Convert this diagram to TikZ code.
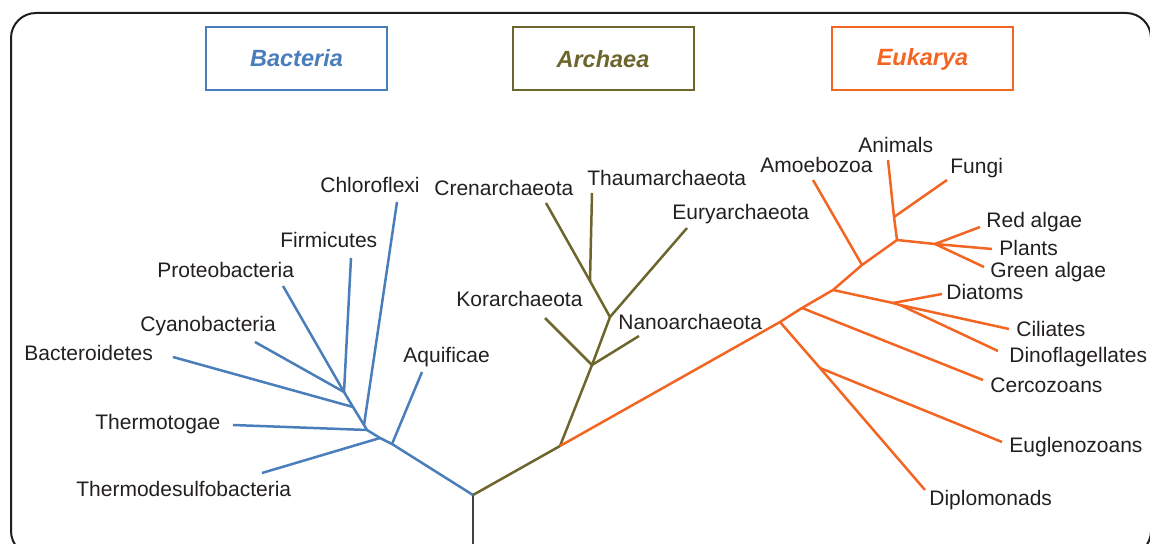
\documentclass[tikz,border=0pt]{standalone}
\usepackage{fontspec}
\setmainfont{Liberation Sans}
\definecolor{bact}{RGB}{74,126,187}
\definecolor{arch}{RGB}{108,102,45}
\definecolor{euk}{RGB}{242,101,34}
\definecolor{txt}{RGB}{35,31,32}
\definecolor{frame}{RGB}{30,30,30}
\begin{document}
\begin{tikzpicture}[x=0.5pt,y=-0.5pt,
  lbl/.style={anchor=base west, yshift=-3.75pt, inner sep=0pt, text=txt, font=\fontsize{10.5}{12}\selectfont},
  titlebox/.style={draw, line width=1pt, minimum width=90.5pt, minimum height=31.5pt, inner sep=0pt, font=\fontsize{11.75}{14}\selectfont\bfseries\itshape},
  br/.style={line width=1.25pt, line join=round}]
\useasboundingbox (0,0) rectangle (1150,544);
\begin{scope}
\clip (0,0) rectangle (1150,544);
\draw[frame, line width=1pt, rounded corners=12.5pt] (11,13) rectangle (1151,556);
\end{scope}

% titles
\node[titlebox, draw=bact, text=bact] (tbact) at (296.5,58.5) {Bacteria};
\node[titlebox, draw=arch, text=arch] (tarch) at (603,59) {Archaea};
\node[titlebox, draw=euk, text=euk] (teuk) at (922.5,59) {Eukarya};

% coordinates: root
\coordinate (root) at (473,495);
\coordinate (stem) at (473,548);
% bacteria
\coordinate (b1) at (392,444);
\coordinate (b2) at (380,438);
\coordinate (b3) at (367,430);
\coordinate (b4) at (364,425);
\coordinate (b5) at (353,407);
\coordinate (b6) at (344,392);
\coordinate (eChloro) at (397,202);
\coordinate (eFirmi) at (351,258);
\coordinate (eProteo) at (283,286);
\coordinate (eCyano) at (255,342);
\coordinate (eBactero) at (173,357);
\coordinate (eAquif) at (422,372);
\coordinate (eThermoto) at (233,425);
\coordinate (eThermode) at (262,473);
% archaea
\coordinate (a1) at (560,446);
\coordinate (a2) at (592,365);
\coordinate (a3) at (610,317);
\coordinate (a4) at (590,281);
\coordinate (eKor) at (545,318);
\coordinate (eNano) at (639,336);
\coordinate (eEury) at (687,228);
\coordinate (eCren) at (546,203);
\coordinate (eThaum) at (592,193);
% eukarya
\coordinate (e1) at (780,322);
\coordinate (e2) at (802,308);
\coordinate (e3) at (833,290);
\coordinate (e4) at (862,265);
\coordinate (e5) at (897,240);
\coordinate (e6) at (820,368);
\coordinate (e7) at (893,303);
\coordinate (e8) at (900,305);
\coordinate (e9) at (894,217);
\coordinate (e10) at (935,244);
\coordinate (eDiplo) at (925,490);
\coordinate (eEugl) at (1002,442);
\coordinate (eCerco) at (983,380);
\coordinate (eDiat) at (942,294);
\coordinate (eCil) at (1009,329);
\coordinate (eDino) at (998,351);
\coordinate (eAmoe) at (813,180);
\coordinate (eAnim) at (888,160);
\coordinate (eFungi) at (947,180);
\coordinate (eRed) at (980,227);
\coordinate (ePlants) at (992,249);
\coordinate (eGreen) at (984,267);

% stem
\draw[br, txt!85] (root) -- (stem);
% bacteria branches
\draw[br, bact] (root) -- (b1) -- (b2) -- (b3) -- (b4) -- (b5) -- (b6);
\draw[br, bact] (b1) -- (eAquif);
\draw[br, bact] (b2) -- (eThermode);
\draw[br, bact] (b3) -- (eThermoto);
\draw[br, bact] (b4) -- (eChloro);
\draw[br, bact] (b5) -- (eBactero);
\draw[br, bact] (b6) -- (eFirmi);
\draw[br, bact] (b6) -- (eProteo);
\draw[br, bact] (b6) -- (eCyano);
% archaea branches
\draw[br, arch] (root) -- (a1) -- (a2) -- (a3) -- (a4) -- (eCren);
\draw[br, arch] (a2) -- (eKor);
\draw[br, arch] (a2) -- (eNano);
\draw[br, arch] (a3) -- (eEury);
\draw[br, arch] (a4) -- (eThaum);
% eukarya branches
\draw[br, euk] (a1) -- (e1) -- (e2) -- (e3) -- (e4) -- (e5);
\draw[br, euk] (e1) -- (e6) -- (eDiplo);
\draw[br, euk] (e6) -- (eEugl);
\draw[br, euk] (e2) -- (eCerco);
\draw[br, euk] (e3) -- (e7) -- (e8) -- (eCil);
\draw[br, euk] (e7) -- (eDiat);
\draw[br, euk] (e8) -- (eDino);
\draw[br, euk] (e4) -- (eAmoe);
\draw[br, euk] (e5) -- (e9) -- (eAnim);
\draw[br, euk] (e9) -- (eFungi);
\draw[br, euk] (e5) -- (e10) -- (ePlants);
\draw[br, euk] (e10) -- (eRed);
\draw[br, euk] (e10) -- (eGreen);

% labels
\node[lbl] (lChloro) at (320,185) {Chloroflexi};
\node[lbl] (lFirmi) at (280,240) {Firmicutes};
\node[lbl] (lProteo) at (157,270) {Proteobacteria};
\node[lbl] (lCyano) at (140,324) {Cyanobacteria};
\node[lbl] (lBactero) at (24,353) {Bacteroidetes};
\node[lbl] (lAquif) at (403,355) {Aquificae};
\node[lbl] (lThermoto) at (95,422) {Thermotogae};
\node[lbl] (lThermode) at (76,489) {Thermodesulfobacteria};
\node[lbl] (lCren) at (434,188) {Crenarchaeota};
\node[lbl] (lThaum) at (587,178) {Thaumarchaeota};
\node[lbl] (lEury) at (672,212) {Euryarchaeota};
\node[lbl] (lKor) at (456,299) {Korarchaeota};
\node[lbl] (lNano) at (618,322) {Nanoarchaeota};
\node[lbl] (lAnim) at (858,145) {Animals};
\node[lbl] (lFungi) at (950,166) {Fungi};
\node[lbl] (lAmoe) at (760,165) {Amoebozoa};
\node[lbl] (lRed) at (986,220) {Red algae};
\node[lbl] (lPlants) at (999,248) {Plants};
\node[lbl] (lGreen) at (990,270) {Green algae};
\node[lbl] (lDiat) at (946,292) {Diatoms};
\node[lbl] (lCil) at (1016,329) {Ciliates};
\node[lbl] (lDino) at (1009,355) {Dinoflagellates};
\node[lbl] (lCerco) at (990,385) {Cercozoans};
\node[lbl] (lEugl) at (1009,445) {Euglenozoans};
\node[lbl] (lDiplo) at (929,498) {Diplomonads};
\end{tikzpicture}
\end{document}
